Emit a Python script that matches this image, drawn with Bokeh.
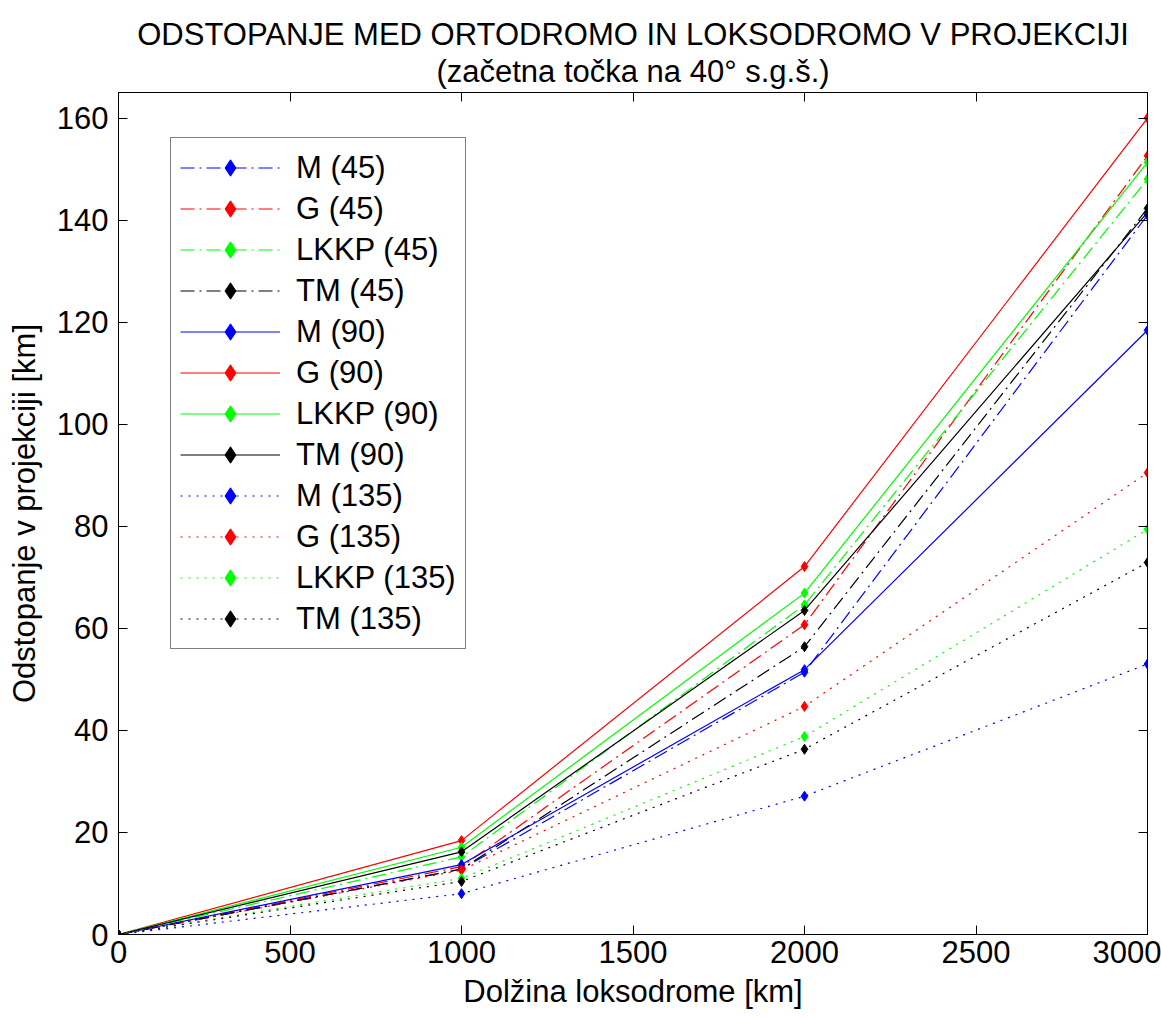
from bokeh.plotting import figure
from bokeh.models import (Range1d, FixedTicker, LinearAxis, Legend, LegendItem, Title,
                          CustomLabelingPolicy)
from bokeh.embed import file_html
from bokeh.resources import INLINE

# ---- data ----
distance_km = [0, 1000, 2000, 3000]

M_45 = [0, 12.8, 51.4, 141.0]
G_45 = [0, 13.3, 60.7, 152.6]
LKKP_45 = [0, 15.2, 64.6, 148.0]
TM_45 = [0, 12.8, 56.4, 142.3]
M_90 = [0, 13.7, 51.9, 118.4]
G_90 = [0, 18.4, 72.1, 160.0]
LKKP_90 = [0, 17.1, 66.9, 151.3]
TM_90 = [0, 16.2, 63.5, 141.5]
M_135 = [0, 8.0, 27.1, 53.0]
G_135 = [0, 12.6, 44.7, 90.5]
LKKP_135 = [0, 11.0, 38.8, 79.4]
TM_135 = [0, 10.4, 36.3, 72.9]

series_labels = ["M (45)", "G (45)", "LKKP (45)", "TM (45)",
                 "M (90)", "G (90)", "LKKP (90)", "TM (90)",
                 "M (135)", "G (135)", "LKKP (135)", "TM (135)"]
series_values = [M_45, G_45, LKKP_45, TM_45,
                 M_90, G_90, LKKP_90, TM_90,
                 M_135, G_135, LKKP_135, TM_135]

x_ticks = [0, 500, 1000, 1500, 2000, 2500, 3000]
y_ticks = [0, 20, 40, 60, 80, 100, 120, 140, 160]

title_line1 = "ODSTOPANJE MED ORTODROMO IN LOKSODROMO V PROJEKCIJI"
title_line2 = "(začetna točka na 40° s.g.š.)"
x_label = "Dolžina loksodrome [km]"
y_label = "Odstopanje v projekciji [km]"

# ---- styles ----
colors = ["#0000ff", "#ff0000", "#00ff00", "#000000"]
dashes = ["14 5 2 5", "solid", "2 6"]
FONT = "Liberation Sans"
FS = "31px"

p = figure(width=1161, height=1017, output_backend="svg", toolbar_location=None,
           x_range=Range1d(0, 3000), y_range=Range1d(0, 165),
           min_border_left=118, min_border_right=14, min_border_top=92,
           min_border_bottom=83, title=None)
p.background_fill_color = "white"
p.border_fill_color = "white"
p.outline_line_color = "black"
p.outline_line_width = 1
p.xgrid.grid_line_color = None
p.ygrid.grid_line_color = None

for ax, ticks in ((p.xaxis[0], x_ticks), (p.yaxis[0], y_ticks)):
    ax.ticker = FixedTicker(ticks=ticks)
    ax.major_tick_in = 9
    ax.major_tick_out = 0
    ax.minor_tick_line_color = None
    ax.axis_line_color = "black"
    ax.major_tick_line_color = "black"
    ax.major_label_text_font = FONT
    ax.major_label_text_font_size = FS
    ax.major_label_text_color = "black"
    ax.axis_label_text_font = FONT
    ax.axis_label_text_font_size = FS
    ax.axis_label_text_font_style = "normal"
    ax.axis_label_text_color = "black"
p.xaxis[0].axis_label = x_label
p.yaxis[0].axis_label = y_label
p.xaxis[0].major_label_standoff = 6
p.yaxis[0].major_label_standoff = 10
p.xaxis[0].axis_label_standoff = 8
p.yaxis[0].axis_label_standoff = 12

# mirrored axes (ticks only, no labels) on top and right
hide_all = CustomLabelingPolicy(code="""
const keep = [];
for (const i of indices) keep.push(i);
for (const i of keep) indices.unset(i);
return indices;
""")
for loc, ticks in (("right", y_ticks), ("above", x_ticks)):
    a = LinearAxis(ticker=FixedTicker(ticks=ticks), major_tick_in=9, major_tick_out=0,
                   minor_tick_line_color=None, major_label_policy=hide_all,
                   major_label_text_font_size="1px",
                   major_label_standoff=0, axis_line_color="black")
    p.add_layout(a, loc)

p.add_layout(Title(text=title_line2, align="center", text_font=FONT, text_color="black",
                   text_font_size=FS, text_font_style="normal", text_line_height=0.8,
                   standoff=0), "above")
p.add_layout(Title(text=title_line1, align="center", text_font=FONT, text_color="black",
                   text_font_size=FS, text_font_style="normal", text_line_height=0.75,
                   standoff=0), "above")

items = []
for i, (lab, vals) in enumerate(zip(series_labels, series_values)):
    col = colors[i % 4]
    dash = dashes[i // 4]
    r_line = p.line(distance_km, vals, line_color=col, line_width=1.2, line_dash=dash)
    r_pt = p.scatter(distance_km, vals, marker="diamond", size=10,
                     fill_color=col, line_color=col)
    items.append(LegendItem(label=lab, renderers=[r_line, r_pt]))

legend = Legend(items=items, location=(52, 285), padding=9, margin=0,
                glyph_width=100, glyph_height=41, label_height=41, spacing=0,
                label_standoff=16, label_text_font=FONT, label_text_font_size=FS,
                label_text_color="black", border_line_color="black",
                border_line_width=1.5, background_fill_color="white",
                background_fill_alpha=1.0)
p.add_layout(legend, "center")

open("out.html", "w").write(file_html(p, INLINE))
